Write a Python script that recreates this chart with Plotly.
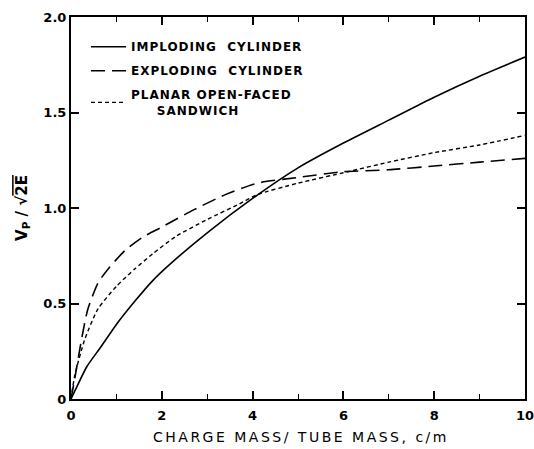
import plotly.graph_objects as go

# Imploding cylinder (solid)
imp_x = [0, 0.1, 0.35, 0.65, 1.0, 1.4, 1.8, 2.2, 3.0, 4.0, 5.0, 6.0, 7.0, 8.0, 9.0, 10.0]
imp_y = [0, 0.05, 0.17, 0.27, 0.39, 0.51, 0.62, 0.71, 0.87, 1.05, 1.21, 1.34, 1.46, 1.58, 1.69, 1.79]

# Exploding cylinder (long dash)
exp_x = [0, 0.1, 0.23, 0.37, 0.6, 0.85, 1.2, 1.6, 2.0, 2.7, 3.4, 4.1, 5.0, 6.0, 7.0, 8.0, 9.0, 10.0]
exp_y = [0, 0.13, 0.31, 0.47, 0.61, 0.69, 0.78, 0.85, 0.90, 0.99, 1.07, 1.13, 1.16, 1.19, 1.20, 1.22, 1.24, 1.26]

# Planar open-faced sandwich (short dash)
pla_x = [0, 0.08, 0.3, 0.59, 1.0, 1.4, 1.8, 2.3, 3.0, 3.7, 4.1, 5.0, 6.1, 7.0, 8.0, 9.0, 10.0]
pla_y = [0, 0.12, 0.31, 0.47, 0.59, 0.68, 0.76, 0.85, 0.94, 1.02, 1.07, 1.13, 1.19, 1.24, 1.29, 1.33, 1.38]

x_ticks = [0, 2, 4, 6, 8, 10]
x_tick_labels = ["0", "2", "4", "6", "8", "10"]
y_ticks = [0, 0.5, 1.0, 1.5, 2.0]
y_tick_labels = ["0", "0.5", "1.0", "1.5", "2.0"]

names = [
    "<span style='letter-spacing:1px'>IMPLODING\u00a0\u00a0CYLINDER</span>",
    "<span style='letter-spacing:1px'>EXPLODING\u00a0\u00a0CYLINDER</span>",
    "<span style='letter-spacing:1px'>PLANAR OPEN-FACED<br>\u00a0\u00a0\u00a0\u00a0\u00a0SANDWICH</span>",
]
x_title = "<span style='letter-spacing:2.5px'>CHARGE MASS/ TUBE MASS, c/m</span>"
y_title = "V<sub>P</sub> / \u221a<span style='text-decoration:overline'>2E</span>"

FONT = "DejaVu Sans"
fig = go.Figure()
fig.add_trace(go.Scatter(x=imp_x, y=imp_y, mode="lines", name=names[0], legendgroup="a",
                         line=dict(color="black", width=1.6, shape="spline", smoothing=0.6)))
fig.add_trace(go.Scatter(x=exp_x, y=exp_y, mode="lines", name=names[1], legendgroup="b",
                         line=dict(color="black", width=1.6, dash="14px,7px", shape="spline", smoothing=0.6)))
fig.add_trace(go.Scatter(x=pla_x, y=pla_y, mode="lines", name=names[2], legendgroup="c",
                         line=dict(color="black", width=1.4, dash="4px,3px", shape="spline", smoothing=0.6)))

axis_common = dict(
    showline=True, linecolor="black", linewidth=2, mirror="ticks",
    ticks="inside", tickcolor="black", tickwidth=1.5,
    showgrid=False, zeroline=False, automargin=False,
    ticklabeloverflow="allow",
    tickfont=dict(family=FONT, size=13, color="black", weight="bold"),
)

fig.update_xaxes(
    range=[0, 10], tickvals=x_ticks, ticktext=x_tick_labels, ticklen=8,
    ticklabelstandoff=3,
    minor=dict(dtick=1, ticks="inside", ticklen=5, tickcolor="black", tickwidth=1.2, showgrid=False),
    **axis_common,
)
fig.update_yaxes(
    range=[0, 2.0], tickvals=y_ticks, ticktext=y_tick_labels, ticklen=8,
    title=dict(text=y_title, font=dict(family=FONT, size=15, color="black", weight="bold"), standoff=12),
    **axis_common,
)

fig.add_annotation(text=x_title, xref="paper", yref="paper", x=0.5, y=-0.0995,
                   xanchor="center", yanchor="middle", xshift=3, showarrow=False,
                   font=dict(family=FONT, size=14, color="black"))

fig.update_layout(
    width=534, height=449,
    margin=dict(l=71, r=9, t=17, b=50),
    paper_bgcolor="white", plot_bgcolor="white",
    showlegend=True,
    legend=dict(x=0.033, y=0.960, xanchor="left", yanchor="top",
                bgcolor="rgba(0,0,0,0)", borderwidth=0,
                font=dict(family=FONT, size=12, color="black", weight="bold"),
                itemwidth=35, tracegroupgap=5),
)

# remove the default page margin so the figure fills the window exactly
fig.write_html("out.html", config={"displayModeBar": False},
               post_script="document.body.style.margin='0';document.body.style.overflow='hidden';")
